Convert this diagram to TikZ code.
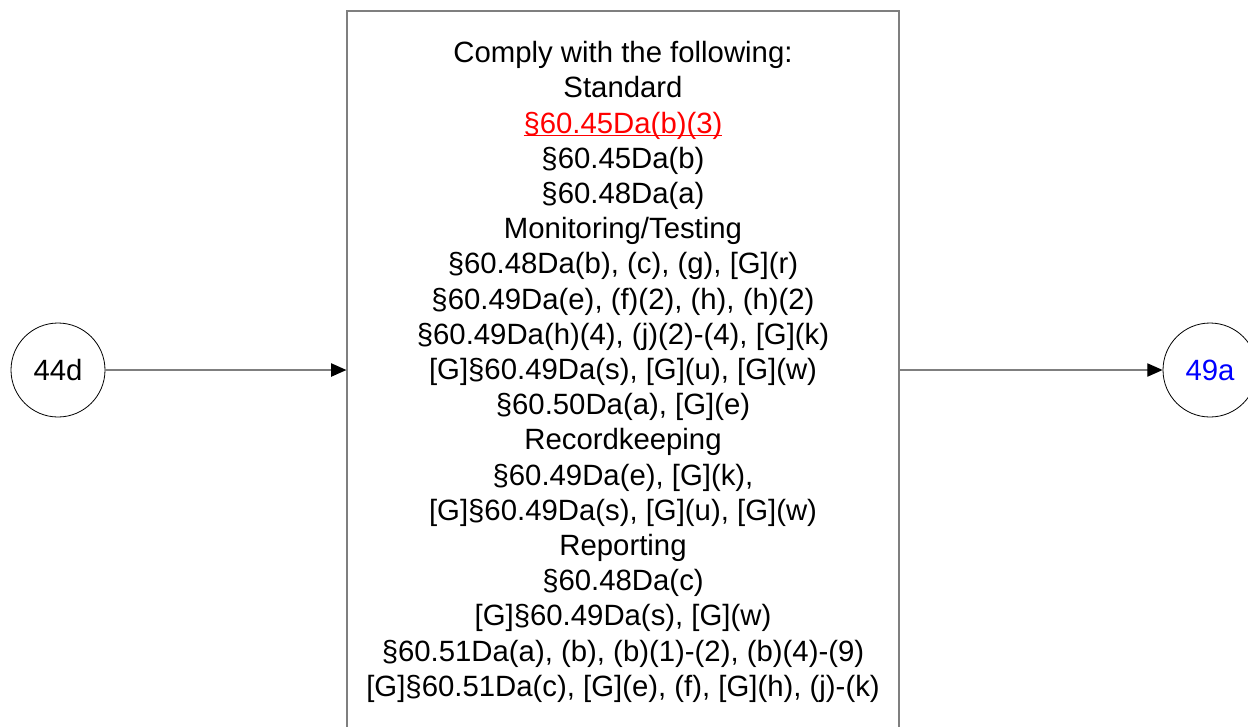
\documentclass[tikz,border=0pt]{standalone}
\usepackage{fontspec}
\setmainfont{Liberation Sans}
\usepackage{xcolor}
\usetikzlibrary{positioning, arrows.meta}
\definecolor{edge}{HTML}{7F7F7F}
\definecolor{refred}{HTML}{FF0000}
\definecolor{refblue}{HTML}{0000FF}
\newcommand{\redlink}[1]{{\color{refred}\setbox0\hbox{#1}\rlap{\rule[-2.4pt]{\wd0}{0.9pt}}\box0}}

\begin{document}
\begin{tikzpicture}[x=0.75pt, y=-0.75pt, font=\fontsize{22}{26.4}\selectfont]
  \useasboundingbox (0,0) rectangle (1248,726);
  \node[draw=edge, line width=0.9pt, minimum width=414pt, minimum height=541.5pt, align=center, inner sep=0pt] (req) at (623,372)
    {Comply with the following:\\Standard\\\redlink{§60.45Da(b)(3)}\\§60.45Da(b)\\§60.48Da(a)\\Monitoring/Testing\\§60.48Da(b), (c), (g), [G](r)\\§60.49Da(e), (f)(2), (h), (h)(2)\\§60.49Da(h)(4), (j)(2)-(4), [G](k)\\{}[G]§60.49Da(s), [G](u), [G](w)\\§60.50Da(a), [G](e)\\Recordkeeping\\§60.49Da(e), [G](k),\\{}[G]§60.49Da(s), [G](u), [G](w)\\Reporting\\§60.48Da(c)\\{}[G]§60.49Da(s), [G](w)\\§60.51Da(a), (b), (b)(1)-(2), (b)(4)-(9)\\{}[G]§60.51Da(c), [G](e), (f), [G](h), (j)-(k)};
  \node[circle, draw, line width=0.6pt, minimum size=70.5pt, inner sep=0pt] (c44d) at (58,370) {44d};
  \node[circle, draw, line width=0.6pt, minimum size=70.5pt, inner sep=0pt, text=refblue] (c49a) at (1210,370) {49a};
  \draw[-{Triangle[length=11.5pt, width=10pt, color=black]}, edge, line width=0.9pt] (c44d) -- (c44d -| req.west);
  \draw[-{Triangle[length=11.5pt, width=10pt, color=black]}, edge, line width=0.9pt] (c49a -| req.east) -- (c49a);
\end{tikzpicture}
\end{document}
